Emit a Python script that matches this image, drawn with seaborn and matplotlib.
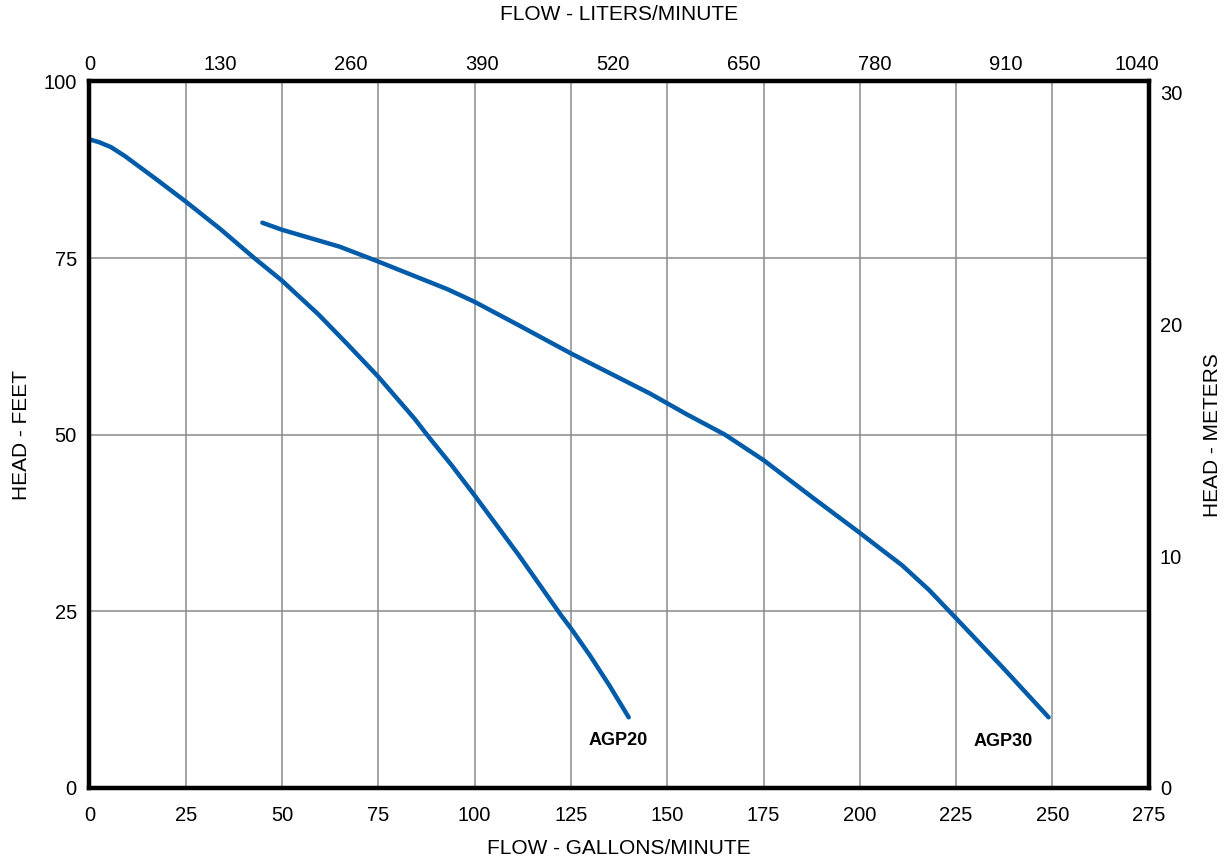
import matplotlib
matplotlib.use("Agg")
import matplotlib.pyplot as plt
import seaborn as sns
import pandas as pd

# pump curves, flow in gpm, head in feet
agp20_gpm = [0, 2.5, 5.6, 9.3, 17, 25, 34, 42.8, 50, 59.5, 67, 75, 84.5, 88.2, 94, 100, 111.4, 122.5, 125, 130, 135, 140]
agp20_ft = [91.8, 91.4, 90.7, 89.4, 86.3, 83.0, 79.1, 75.0, 71.8, 67.0, 62.8, 58.2, 52.2, 49.6, 45.7, 41.4, 33.0, 24.4, 22.6, 18.7, 14.5, 10.0]
agp30_gpm = [44.9, 50, 65, 75, 92.9, 100, 111.4, 125, 145.6, 155, 165, 175, 187.5, 200, 205, 211, 218, 225, 237, 249]
agp30_ft = [80.0, 79.0, 76.6, 74.5, 70.6, 68.8, 65.5, 61.5, 55.8, 52.9, 50.0, 46.4, 41.2, 36.1, 34.0, 31.5, 28.0, 24.0, 17.1, 10.0]

gpm_ticks = [0, 25, 50, 75, 100, 125, 150, 175, 200, 225, 250, 275]
lpm_ticks = [0, 130, 260, 390, 520, 650, 780, 910, 1040]
ft_ticks = [0, 25, 50, 75, 100]
m_ticks = [0, 10, 20, 30]

df = pd.concat([
    pd.DataFrame({"gpm": agp20_gpm, "ft": agp20_ft, "pump": "AGP20"}),
    pd.DataFrame({"gpm": agp30_gpm, "ft": agp30_ft, "pump": "AGP30"}),
])

sns.set_style("white")
plt.rcParams['font.family'] = ['Liberation Sans', 'DejaVu Sans']
plt.rcParams['text.color'] = 'black'
plt.rcParams['axes.labelcolor'] = 'black'
plt.rcParams['xtick.color'] = 'black'
plt.rcParams['ytick.color'] = 'black'

fig = plt.figure(figsize=(12.31, 8.64), dpi=100)
ax = fig.add_axes([0.0726, 0.088, 0.8606, 0.8178])

blue = "#005ba9"
sns.lineplot(data=df, x="gpm", y="ft", hue="pump", palette=[blue, blue],
             linewidth=3.2, legend=False, ax=ax, sort=False, zorder=5)
for ln in ax.lines:
    ln.set_solid_capstyle("round")
    ln.set_solid_joinstyle("round")

ax.set_xlim(0, 275)
ax.set_ylim(0, 100)
ax.set_xticks(gpm_ticks)
ax.set_yticks(ft_ticks)
ax.grid(True, color="#8a8a8a", linewidth=1.1)
ax.tick_params(length=0, labelsize=14.5)
ax.tick_params(axis="x", pad=13)
ax.tick_params(axis="y", pad=9)
for s in ax.spines.values():
    s.set_linewidth(3)
    s.set_color("black")
    s.set_zorder(6)

ax.set_xlabel("FLOW - GALLONS/MINUTE", fontsize=15)
ax.set_ylabel("HEAD - FEET", fontsize=15)
ax.xaxis.set_label_coords(0.5, -0.085)
ax.xaxis.label.set_va("center")
ax.yaxis.set_label_coords(-0.0636, 0.5)
ax.yaxis.label.set_va("center")

ax.text(137.3, 6.7, "AGP20", fontsize=13, fontweight="bold", ha="center", va="center")
ax.text(237.3, 6.6, "AGP30", fontsize=13, fontweight="bold", ha="center", va="center")

# liters per minute on top
axt = ax.twiny()
axt.set_xlim(0, 1052)
axt.set_xticks(lpm_ticks)
axt.tick_params(length=0, labelsize=14.5, pad=5)
axt.set_xlabel("FLOW - LITERS/MINUTE", fontsize=15)
axt.xaxis.set_label_coords(0.5, 1.094)
axt.xaxis.label.set_va("center")
axt.grid(False)

# meters on right
axr = ax.twinx()
axr.set_ylim(0, 30.48)
axr.set_yticks(m_ticks)
axr.tick_params(length=0, labelsize=14.5, pad=8)
axr.set_ylabel("HEAD - METERS", fontsize=15)
axr.yaxis.set_label_coords(1.0598, 0.5)
axr.yaxis.label.set_va("center")
axr.grid(False)
for a in (axt, axr):
    for s in a.spines.values():
        s.set_linewidth(3)
        s.set_color("black")

fig.savefig("out.png", dpi=100)
